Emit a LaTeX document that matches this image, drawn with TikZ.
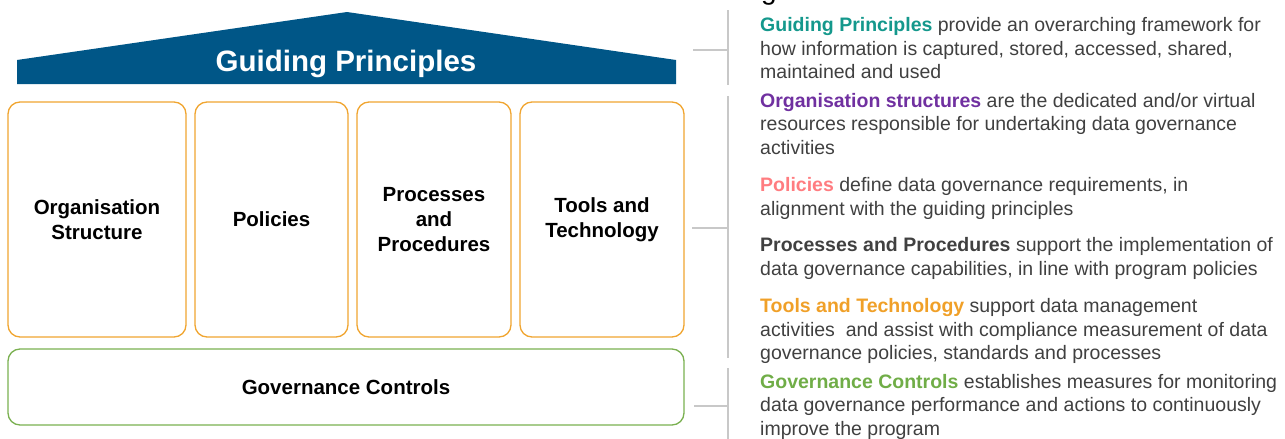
\documentclass[tikz,border=0pt]{standalone}
\usepackage{fontspec}
\setmainfont{Liberation Sans}
\definecolor{roofblue}{RGB}{0,86,135}
\definecolor{pillarorange}{RGB}{240,165,48}
\definecolor{ctrlgreen}{RGB}{122,176,80}
\definecolor{gpteal}{RGB}{20,152,140}
\definecolor{orgpurple}{RGB}{112,48,160}
\definecolor{polpink}{RGB}{255,124,128}
\definecolor{bodygray}{RGB}{64,64,64}
\definecolor{toolorange}{RGB}{240,160,40}
\definecolor{govgreen}{RGB}{112,173,71}
\definecolor{linegray}{RGB}{200,200,200}
\begin{document}
\begin{tikzpicture}[x=1pt,y=-1pt,
  pillar/.style={draw=pillarorange, line width=1.3pt, rounded corners=12pt,
    font=\fontsize{20.5}{25}\selectfont\bfseries, align=center, inner sep=0pt},
  base/.style={draw=ctrlgreen, line width=1.3pt, rounded corners=12pt,
    font=\fontsize{20.5}{25}\selectfont\bfseries, align=center, inner sep=0pt},
  % multi-line descriptions are placed by the baseline of their last line
  desc/.style={anchor=base west, align=left, inner sep=0pt,
    font=\fontsize{19.5}{23.5}\selectfont, text=bodygray},
  bracket/.style={draw=linegray, line width=1.3pt}]
\useasboundingbox (0,0) rectangle (1285,439);

% roof
\fill[roofblue] (17,84) -- (17,60) -- (347,12) -- (676,60) -- (676,84) -- cycle;
\node[text=white, font=\fontsize{29.5}{30}\selectfont\bfseries, anchor=base, inner sep=0pt]
  (roof) at (346,71) {Guiding Principles};

% pillars
\node[pillar, minimum width=178pt, minimum height=235pt] (org) at (97,219.5)
  {Organisation\\Structure};
\node[pillar, minimum width=153pt, minimum height=235pt] (pol) at (271.5,219.5)
  {Policies};
\node[pillar, minimum width=154pt, minimum height=235pt] (proc) at (434,219.5)
  {Processes\\and\\Procedures};
\node[pillar, minimum width=164pt, minimum height=235pt] (tools) at (602,219.5)
  {Tools and\\Technology};

% foundation
\node[base, minimum width=676pt, minimum height=76pt] (ctrl) at (346,387)
  {Governance Controls};

% heading fragment at the top edge
\node[anchor=base west, inner sep=0pt, text=black, font=\fontsize{28}{28}\selectfont]
  (head) at (761,-1) {g};

% brackets
\coordinate (b1t) at (728,10);
\coordinate (b1b) at (728,85);
\coordinate (b1m) at (728,50);
\coordinate (b1e) at (693,50);
\coordinate (b2t) at (728,96);
\coordinate (b2b) at (728,358);
\coordinate (b2m) at (728,228);
\coordinate (b2e) at (692,228);
\coordinate (b3t) at (728,368);
\coordinate (b3b) at (728,445);
\coordinate (b3m) at (728,406);
\coordinate (b3e) at (694,406);
\draw[bracket] (b1t) -- (b1b);
\draw[bracket] (b1e) -- (b1m);
\draw[bracket] (b2t) -- (b2b);
\draw[bracket] (b2e) -- (b2m);
\draw[bracket] (b3t) -- (b3b);
\draw[bracket] (b3e) -- (b3m);

% descriptions
\node[desc] (dgp) at (760,78.5)
  {\textcolor{gpteal}{\bfseries Guiding Principles} provide an overarching framework for\\
   how information is captured, stored, accessed, shared,\\
   maintained and used};
\node[desc] (dorg) at (760,154)
  {\textcolor{orgpurple}{\bfseries Organisation structures} are the dedicated and/or virtual\\
   resources responsible for undertaking data governance\\
   activities};
\node[desc] (dpol) at (760,215)
  {\textcolor{polpink}{\bfseries Policies} define data governance requirements, in\\
   alignment with the guiding principles};
\node[desc] (dproc) at (760,275)
  {\textcolor{bodygray}{\bfseries Processes and Procedures} support the implementation of\\
   data governance capabilities, in line with program policies};
\node[desc] (dtools) at (760,359.5)
  {\textcolor{toolorange}{\bfseries Tools and Technology} support data management\\
   activities\ \ and assist with compliance measurement of data\\
   governance policies, standards and processes};
\node[desc] (dctrl) at (760,435)
  {\textcolor{govgreen}{\bfseries Governance Controls} establishes measures for monitoring\\
   data governance performance and actions to continuously\\
   improve the program};
\end{tikzpicture}
\end{document}
